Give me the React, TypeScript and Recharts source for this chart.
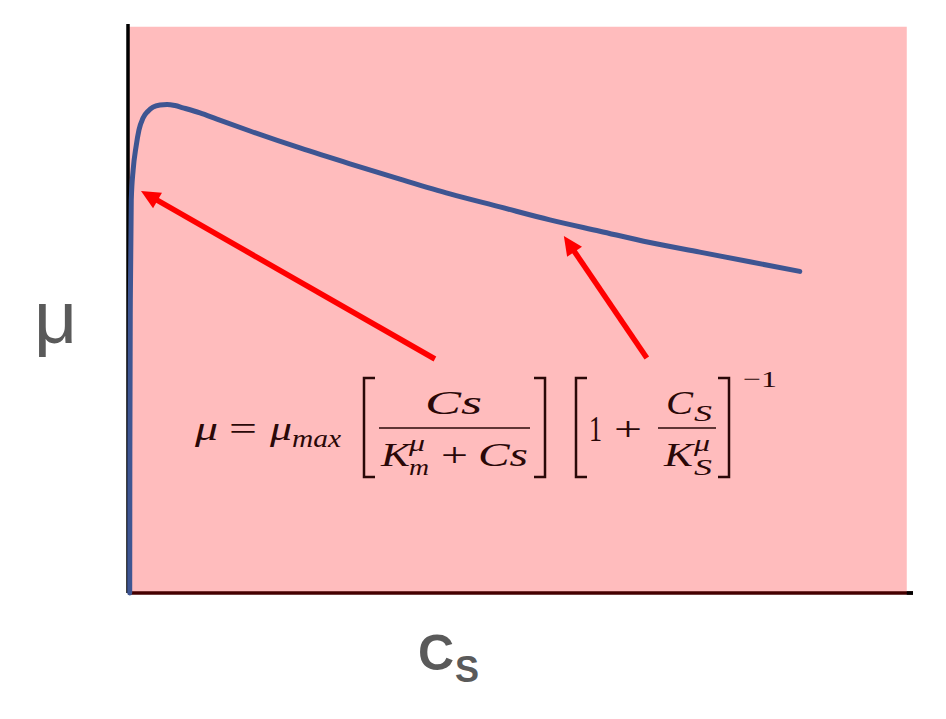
import React from "react";
import { LineChart, Line, XAxis, YAxis, ReferenceArea, ReferenceLine } from "recharts";

// Substrate concentration (Cs) and growth rate (mu)
const csValues = [0.22, 0.24, 0.3, 0.42, 0.66, 1.03, 1.41, 1.93, 2.57, 3.21, 4.11, 5.01, 6.03, 7.06, 9.24, 11.42, 15.66, 22.08, 28.5, 34.92, 41.34, 47.75, 54.17, 60.59, 67.01, 73.43, 79.85, 86.26];
const muValues = [0, 25.3, 51.7, 69.4, 74.7, 78.8, 81.8, 83.9, 85.1, 85.8, 86.2, 86.3, 86.1, 85.7, 84.8, 83.7, 81.6, 78.6, 75.8, 73.1, 70.5, 68.2, 65.9, 63.9, 61.9, 60.2, 58.5, 56.8];

// Arrow annotations (tail -> tip) in data coordinates
const arrowTails = [
  { x: 39.41, y: 41.33 },
  { x: 66.62, y: 41.5 },
];
const arrowTips = [
  { x: 1.67, y: 71.0 },
  { x: 55.97, y: 63.05 },
];

const xDomain: [number, number] = [0, 100.8];
const yDomain: [number, number] = [0, 100.5];

const data = csValues.map((cs, i) => ({ cs, mu: muValues[i] }));

const W = 946;
const H = 719;
const MATH = "'Liberation Serif', 'Times New Roman', serif";
const INK = "#2a0808";

const arrowShape = (props: any) => {
  const { x1, y1, x2, y2 } = props;
  const dx = x2 - x1;
  const dy = y2 - y1;
  const len = Math.sqrt(dx * dx + dy * dy) || 1;
  const ux = dx / len;
  const uy = dy / len;
  const headLen = 19;
  const headHalf = 9;
  const bx = x2 - ux * headLen;
  const by = y2 - uy * headLen;
  const px = -uy;
  const py = ux;
  const pts = `${x2},${y2} ${bx + px * headHalf},${by + py * headHalf} ${bx - px * headHalf},${by - py * headHalf}`;
  return (
    <g>
      <line x1={x1} y1={y1} x2={bx + ux * 2} y2={by + uy * 2} stroke="#ff0000" strokeWidth={5.5} />
      <polygon points={pts} fill="#ff0000" />
    </g>
  );
};

const T = (p: any) => (
  <text
    x={p.x}
    y={p.y}
    fontSize={p.size || 34}
    fontStyle={p.italic ? "italic" : "normal"}
    textLength={p.w}
    lengthAdjust="spacingAndGlyphs"
  >
    {p.children}
  </text>
);

export default function App() {
  return (
    <div style={{ position: "absolute", left: 0, top: 0, width: W, height: H, background: "#fff" }}>
      <LineChart width={W} height={H} data={data} margin={{ top: 24, right: 33, bottom: 126, left: 128 }}>
        <XAxis dataKey="cs" type="number" domain={xDomain} hide />
        <YAxis type="number" domain={yDomain} hide />
        <ReferenceArea x1={0} x2={100} y1={0} y2={100} fill="#ffbcbd" fillOpacity={1} stroke="none" />
        <ReferenceLine y={0} stroke="#450000" strokeWidth={3.5} />
        <ReferenceLine segment={[{ x: 100, y: 0 }, { x: 100.8, y: 0 }]} stroke="#000000" strokeWidth={3.5} />
        <ReferenceLine x={0} stroke="#000000" strokeWidth={3.5} />
        {arrowTails.map((t, i) => (
          <ReferenceLine key={i} segment={[t, arrowTips[i]]} stroke="#ff0000" shape={arrowShape} />
        ))}
        <Line
          type="monotone"
          dataKey="mu"
          stroke="#3e5592"
          strokeWidth={5}
          strokeLinecap="round"
          dot={false}
          activeDot={false}
          isAnimationActive={false}
        />
      </LineChart>
      <svg width={W} height={H} style={{ position: "absolute", left: 0, top: 0, pointerEvents: "none" }}>
        {/* axis labels */}
        <text x={34} y={343} fontFamily="'Liberation Sans', Arial, sans-serif" fontSize={75} fill="#5a5a5a">μ</text>
        <text x={418} y={670} fontFamily="'Liberation Sans', Arial, sans-serif" fontSize={50} fontWeight="bold" fill="#5a5a5a">C</text>
        <text x={455} y={682} fontFamily="'Liberation Sans', Arial, sans-serif" fontSize={36} fontWeight="bold" fill="#5a5a5a">S</text>

        {/* formula */}
        <g fontFamily={MATH} fill={INK}>
          <T x={195} y={440} italic w={23}>μ</T>
          <T x={229} y={440} w={28}>=</T>
          <T x={270} y={440} italic w={22}>μ</T>
          <T x={292} y={447} size={25} italic w={49}>max</T>

          <path d="M375,378 H364 V477 H375" fill="none" stroke={INK} strokeWidth={2.5} />
          <T x={425} y={414} italic w={57}>Cs</T>
          <line x1={379} y1={428} x2={530} y2={428} stroke={INK} strokeWidth={1.6} />
          <T x={381} y={466} italic w={29}>K</T>
          <T x={409} y={451} size={24} italic w={16}>μ</T>
          <T x={409} y={475} size={24} italic w={20}>m</T>
          <T x={441} y={466} w={27}>+</T>
          <T x={478} y={466} italic w={50}>Cs</T>
          <path d="M534,378 H545 V477 H534" fill="none" stroke={INK} strokeWidth={2.5} />

          <path d="M587,378 H576 V477 H587" fill="none" stroke={INK} strokeWidth={2.5} />
          <T x={589} y={441} size={36} w={13}>1</T>
          <T x={614} y={440} w={28}>+</T>
          <T x={666} y={414} italic w={27}>C</T>
          <T x={694} y={421} size={24} italic w={18}>S</T>
          <line x1={658} y1={428} x2={716} y2={428} stroke={INK} strokeWidth={1.6} />
          <T x={664} y={466} italic w={29}>K</T>
          <T x={694} y={451} size={24} italic w={16}>μ</T>
          <T x={694} y={475} size={24} italic w={18}>S</T>
          <path d="M718,378 H729 V477 H718" fill="none" stroke={INK} strokeWidth={2.5} />
          <T x={743} y={387} size={24} w={34}>−1</T>
        </g>
      </svg>
    </div>
  );
}
